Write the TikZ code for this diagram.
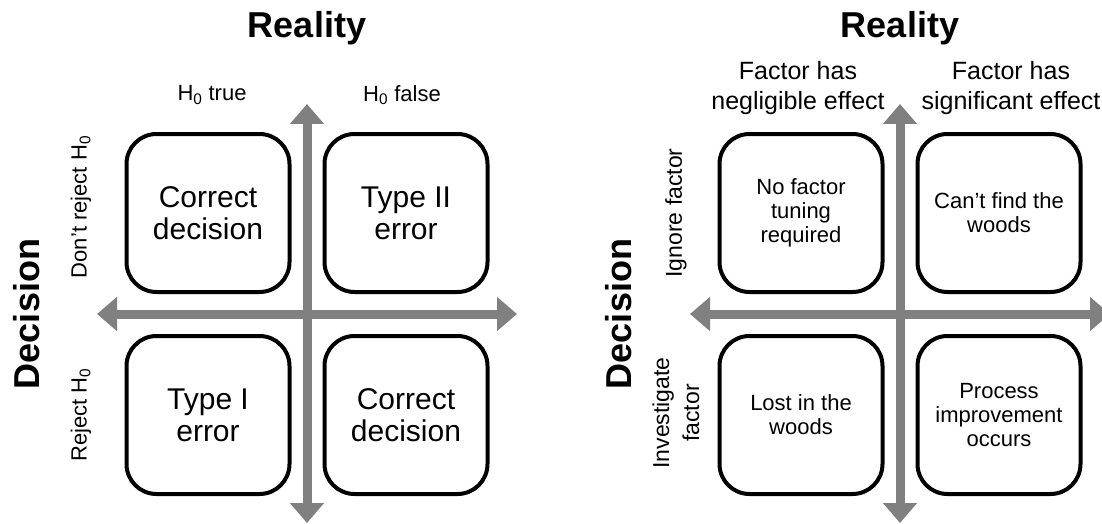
\documentclass[tikz,border=0pt]{standalone}
\usepackage{fontspec}
\setmainfont{Liberation Sans}
\usetikzlibrary{arrows.meta}
\definecolor{axisgray}{RGB}{128,128,128}

\begin{document}
\begin{tikzpicture}[x=1pt,y=-1pt]
\tikzset{
  Axis/.tip={Triangle[width=33pt, length=20pt]},
  axis/.style={draw=axisgray, line width=9pt, arrows=Axis-Axis},
  cell/.style={draw, line width=4pt, rounded corners=30pt, minimum width=163pt,
    minimum height=158pt, align=center, inner sep=0pt},
  bigtitle/.style={font=\fontsize{36}{42}\selectfont\bfseries},
  headtext/.style={align=center, font=\fontsize{22}{27}\selectfont}
}
\useasboundingbox (0,0) rectangle (1102,524);

\begin{scope}[shift={(307,314)}]
\coordinate (L-n) at (0,-210);
\coordinate (L-s) at (0,209);
\coordinate (L-w) at (-210,0);
\coordinate (L-e) at (210,0);
\draw[axis] (L-w) -- (L-e);
\draw[axis] (L-s) -- (L-n);
\node[cell, font=\fontsize{30}{32}\selectfont] (L-nw) at (-99,-101) {Correct\\decision};
\node[cell, font=\fontsize{30}{32}\selectfont] (L-ne) at (99,-101) {Type II\\error};
\node[cell, font=\fontsize{30}{32}\selectfont] (L-sw) at (-99,101) {Type I\\error};
\node[cell, font=\fontsize{30}{32}\selectfont] (L-se) at (99,101) {Correct\\decision};
\node[bigtitle] (L-reality) at (0,-286) {Reality};
\node[bigtitle, rotate=90] (L-decision) at (-280,0) {Decision};
\node[headtext] (L-true) at (-95,-219) {H\textsubscript{0} true};
\node[headtext] (L-false) at (95,-219) {H\textsubscript{0} false};
\node[headtext, rotate=90] (L-keep) at (-226,-107) {Don’t reject H\textsubscript{0}};
\node[headtext, rotate=90] (L-reject) at (-226,101) {Reject H\textsubscript{0}};
\end{scope}

\begin{scope}[shift={(900,314)}]
\coordinate (R-n) at (0,-210);
\coordinate (R-s) at (0,209);
\coordinate (R-w) at (-210,0);
\coordinate (R-e) at (210,0);
\draw[axis] (R-w) -- (R-e);
\draw[axis] (R-s) -- (R-n);
\node[cell, font=\fontsize{22}{24}\selectfont] (R-nw) at (-99,-101) {No factor\\tuning\\required};
\node[cell, font=\fontsize{22}{24}\selectfont] (R-ne) at (99,-101) {Can’t find the\\woods};
\node[cell, font=\fontsize{22}{24}\selectfont] (R-sw) at (-99,101) {Lost in the\\woods};
\node[cell, font=\fontsize{22}{24}\selectfont] (R-se) at (99,101) {Process\\improvement\\occurs};
\node[bigtitle] (R-reality) at (0,-286) {Reality};
\node[bigtitle, rotate=90] (R-decision) at (-281,0) {Decision};
\node[headtext, font=\fontsize{25}{30}\selectfont] (R-small) at (-102,-226) {Factor has\\negligible effect};
\node[headtext, font=\fontsize{25}{30}\selectfont] (R-big) at (111,-226) {Factor has\\significant effect};
\node[headtext, font=\fontsize{23}{30}\selectfont, rotate=90] (R-ignore) at (-224,-101) {Ignore factor};
\node[headtext, font=\fontsize{23}{30}\selectfont, rotate=90] (R-study) at (-224,99) {Investigate\\factor};
\end{scope}
\end{tikzpicture}
\end{document}
